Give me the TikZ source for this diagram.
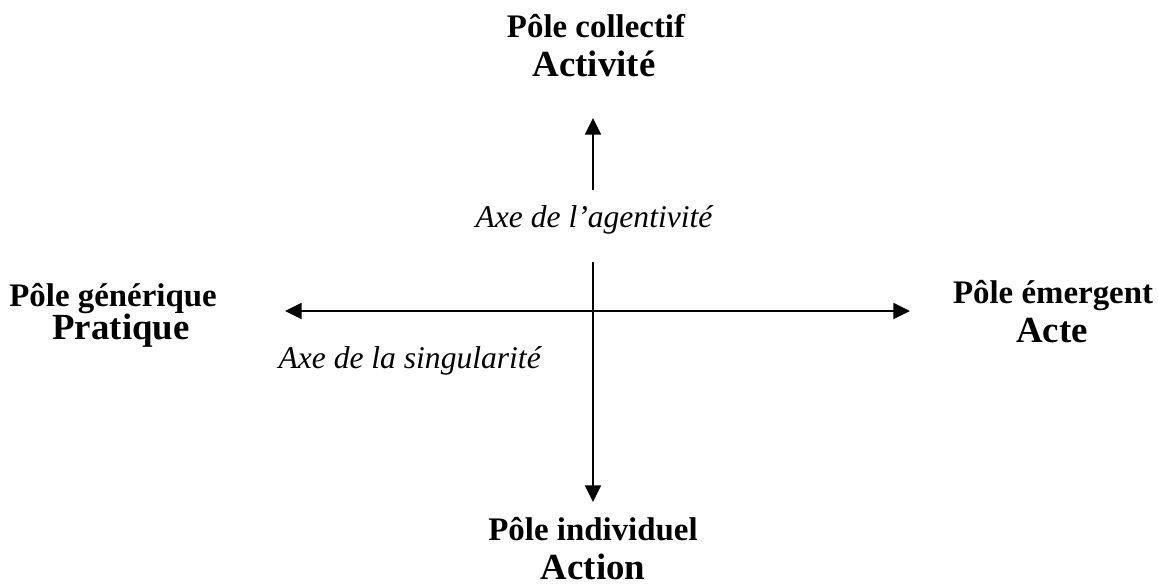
\documentclass[tikz,border=0pt]{standalone}
\usepackage{fontspec}
\setmainfont{Liberation Serif}
\usetikzlibrary{arrows.meta, positioning}

\begin{document}
\begin{tikzpicture}[x=0.38pt, y=-0.38pt, >={Triangle[length=6.3pt, width=6pt]},
  pole/.style={font=\fontsize{12.5}{15}\selectfont\bfseries, anchor=base, inner sep=0pt},
  terme/.style={font=\fontsize{14}{17}\selectfont\bfseries, anchor=base, inner sep=0pt},
  axe/.style={font=\fontsize{12}{14}\selectfont\itshape, anchor=base, inner sep=0pt},
  fleche/.style={->, line width=0.8pt}]
\useasboundingbox (0,0) rectangle (1158,583);

% poles
\node[pole] (P1) at (596,37) {Pôle collectif};
\node[terme] (T1) at (594,76) {Activité};
\node[pole] (P2) at (113,306) {Pôle générique};
\node[terme] (T2) at (121,339) {Pratique};
\node[pole] (P3) at (1053,303) {Pôle émergent};
\node[terme] (T3) at (1052,342) {Acte};
\node[pole] (P4) at (593,540) {Pôle individuel};
\node[terme] (T4) at (593,579) {Action};

% axes
\node[axe] (A1) at (594,227) {Axe de l’agentivité};
\node[axe, anchor=base west] (A2) at (278,368) {Axe de la singularité};

\coordinate (gauche) at (285,311);
\coordinate (droite) at (910,311);
\coordinate (haut) at (593,118);
\coordinate (hautpied) at (593,190);
\coordinate (bas) at (593,502);
\coordinate (baspied) at (593,262);

\draw[fleche, <->] (gauche) -- (droite);
\draw[fleche] (hautpied) -- (haut);
\draw[fleche] (baspied) -- (bas);

\end{tikzpicture}
\end{document}
